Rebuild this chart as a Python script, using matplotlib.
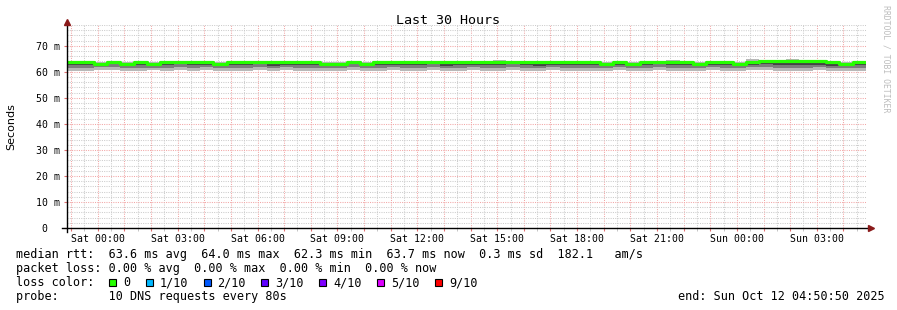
import matplotlib
matplotlib.use('Agg')
import matplotlib.pyplot as plt
from matplotlib.patches import Rectangle
from matplotlib.ticker import MultipleLocator, FixedLocator, FixedFormatter
import numpy as np

# time axis, hours relative to Sat 00:00 (end Sun 04:50:50, 30h window)
t_start = -1.1528
t_end = 28.8472
bin_hours = 0.5

# median rtt per 30 min bin (ms)
median = [63.9, 63.8, 63.0, 63.8, 63.1, 63.9, 62.9, 63.8, 63.7, 63.8,
          63.8, 63.0, 63.8, 63.9, 63.8, 63.7, 63.8, 63.9, 63.7, 63.0,
          63.1, 63.8, 62.9, 63.8, 63.9, 63.9, 63.8, 63.7, 63.8, 63.8,
          63.7, 63.8, 63.9, 63.7, 63.8, 63.8, 63.9, 63.8, 63.7, 63.8,
          63.0, 63.8, 63.1, 63.8, 63.9, 63.8, 63.7, 63.0, 63.8, 63.9,
          63.1, 63.9, 64.0, 64.0, 64.0, 64.0, 64.0, 63.9, 63.1, 63.9]
# smoke levels (ms)
smoke_max = [64.1, 64.1, 63.9, 64.1, 63.9, 64.2, 63.8, 64.1, 64.0, 64.1,
             64.1, 63.9, 64.2, 64.2, 64.1, 64.0, 64.1, 64.2, 64.0, 63.9,
             63.9, 64.1, 63.8, 64.1, 64.2, 64.2, 64.1, 64.0, 64.1, 64.1,
             64.0, 64.1, 64.4, 64.0, 64.1, 64.1, 64.2, 64.1, 64.0, 64.1,
             63.9, 64.1, 63.9, 64.1, 64.2, 64.5, 64.0, 63.9, 64.1, 64.2,
             63.9, 64.8, 64.3, 64.3, 64.8, 64.3, 64.3, 64.2, 63.9, 64.2]
smoke_dark = [62.8, 62.5, 62.3, 62.9, 62.4, 62.6, 62.2, 62.7, 62.9, 62.5,
              62.6, 62.3, 62.8, 62.6, 62.9, 62.4, 62.7, 62.5, 62.8, 62.2,
              62.4, 62.9, 62.1, 62.6, 62.8, 62.5, 62.7, 62.9, 62.4, 62.6,
              62.8, 62.5, 62.7, 62.9, 62.6, 62.4, 62.8, 62.6, 62.7, 62.5,
              62.2, 62.8, 62.3, 62.6, 62.9, 62.5, 62.7, 62.2, 62.8, 62.6,
              62.3, 62.7, 62.9, 62.5, 62.8, 62.6, 62.7, 62.4, 62.2, 62.7]
smoke_mid = [61.6, 61.4, 61.7, 61.8, 61.3, 61.5, 61.6, 61.4, 61.9, 61.5,
             61.7, 61.4, 61.6, 61.3, 61.8, 61.5, 61.7, 61.4, 61.6, 61.5,
             61.3, 61.8, 61.4, 61.6, 61.7, 61.4, 61.5, 61.9, 61.3, 61.6,
             61.7, 61.4, 61.6, 61.8, 61.5, 61.3, 61.7, 61.5, 61.6, 61.4,
             61.5, 61.7, 61.3, 61.6, 61.8, 61.4, 61.6, 61.5, 61.7, 61.3,
             61.4, 61.7, 61.8, 61.4, 61.6, 61.3, 61.7, 61.5, 61.4, 61.6]
smoke_min = [60.5, 60.4, 60.7, 60.8, 60.3, 60.5, 60.6, 60.4, 60.9, 60.4,
             60.6, 60.3, 60.5, 60.3, 60.8, 60.4, 60.7, 60.3, 60.5, 60.4,
             60.3, 60.8, 60.4, 60.5, 60.6, 60.3, 60.4, 60.9, 60.3, 60.5,
             60.6, 60.3, 60.5, 60.8, 60.4, 60.3, 60.6, 60.4, 60.5, 60.3,
             60.4, 60.7, 60.3, 60.5, 60.8, 60.3, 60.5, 60.4, 60.6, 60.3,
             60.3, 60.6, 60.8, 60.3, 60.5, 60.3, 60.7, 60.4, 60.3, 60.5]

xtick_hours = [0, 3, 6, 9, 12, 15, 18, 21, 24, 27]
xtick_labels = ['Sat 00:00', 'Sat 03:00', 'Sat 06:00', 'Sat 09:00', 'Sat 12:00',
                'Sat 15:00', 'Sat 18:00', 'Sat 21:00', 'Sun 00:00', 'Sun 03:00']
ytick_vals = [0, 10, 20, 30, 40, 50, 60, 70]
ytick_labels = ['0  ', '10 m', '20 m', '30 m', '40 m', '50 m', '60 m', '70 m']

loss_labels = ['0', '1/10', '2/10', '3/10', '4/10', '5/10', '9/10']
loss_colors = ['#26ff00', '#00b8ff', '#0059ff', '#5e00ff', '#7e00ff', '#dd00ff', '#ff0000']

title = 'Last 30 Hours'
line_rtt = 'median rtt:  63.6 ms avg  64.0 ms max  62.3 ms min  63.7 ms now  0.3 ms sd  182.1   am/s'
line_loss = 'packet loss: 0.00 % avg  0.00 % max  0.00 % min  0.00 % now'
line_probe = 'probe:       10 DNS requests every 80s'
line_end = 'end: Sun Oct 12 04:50:50 2025'

MONO = 'DejaVu Sans Mono'
W, H = 897, 310


def fx(x):
    return x / W


def fy(y):
    return 1 - y / H


fig = plt.figure(figsize=(W / 100, H / 100), dpi=100)
fig.patch.set_facecolor('white')
ax = fig.add_axes([fx(67), fy(228), fx(866) - fx(67), fy(25) - fy(228)])
ax.set_facecolor('white')

edges = t_start + bin_hours * np.arange(len(median) + 1)


def ext(a):
    return list(a) + [a[-1]]


ax.fill_between(edges, ext(smoke_min), ext(smoke_max), step='post', color='#b8b8b8', lw=0, zorder=2)
ax.fill_between(edges, ext(smoke_mid), ext(median), step='post', color='#7c7c7c', lw=0, zorder=3)
ax.fill_between(edges, ext(smoke_dark), ext(median), step='post', color='#444444', lw=0, zorder=4)
ax.step(edges, ext(median), where='post', color='#26ff00', lw=2.3, zorder=5)

ax.set_xlim(t_start, t_end)
ax.set_ylim(0, 78)

# grid
ax.xaxis.set_major_locator(MultipleLocator(1))
ax.xaxis.set_minor_locator(MultipleLocator(0.5))
ax.yaxis.set_major_locator(FixedLocator(ytick_vals))
ax.yaxis.set_major_formatter(FixedFormatter(ytick_labels))
ax.yaxis.set_minor_locator(MultipleLocator(2))
ax.grid(which='major', color='#f2a6a6', linestyle=(0, (1, 1.2)), lw=0.75, zorder=1)
ax.grid(which='minor', color='#cccccc', linestyle=(0, (1, 1.2)), lw=0.75, zorder=0)
ax.set_axisbelow(True)

ax.tick_params(axis='x', which='major', length=2, color='#e07070', labelbottom=False)
ax.tick_params(axis='x', which='minor', length=2, color='#bbbbbb')
ax.tick_params(axis='y', which='major', length=2, color='#e07070', pad=3,
               labelsize=7.1, labelfontfamily=MONO)
ax.tick_params(axis='y', which='minor', length=0)

for h, lab in zip(xtick_hours, xtick_labels):
    ax.text(h, -5.2, lab, ha='center', va='baseline', fontsize=7.1, family=MONO,
            transform=ax.transData, clip_on=False)

for s in ax.spines.values():
    s.set_visible(False)
arrow_c = '#8a1a1a'
ax.plot([-5 / 799, 1.004], [0, 0], color='black', lw=1, transform=ax.transAxes,
        clip_on=False, zorder=6)
ax.plot([0, 0], [-4 / 203, 1.005], color='black', lw=1, transform=ax.transAxes,
        clip_on=False, zorder=6)
ax.plot([1.006], [0], marker='>', ms=4, color=arrow_c, transform=ax.transAxes, clip_on=False, zorder=7)
ax.plot([0], [1.015], marker='^', ms=4, color=arrow_c, transform=ax.transAxes, clip_on=False, zorder=7)

# texts
fig.text(0.4995, fy(24), title, ha='center', va='baseline', fontsize=9.6, family=MONO)
fig.text(fx(11), fy(127), 'Seconds', rotation=90, ha='center', va='center',
         fontsize=8, family='DejaVu Sans')
fig.text(fx(886), fy(5), 'RRDTOOL / TOBI OETIKER', rotation=270, ha='center', va='top',
         fontsize=5.9, family=MONO, color='#bdbdbd')

fig.text(fx(16), fy(258), line_rtt, ha='left', va='baseline', fontsize=8.5, family=MONO)
fig.text(fx(16), fy(272), line_loss, ha='left', va='baseline', fontsize=8.5, family=MONO)
fig.text(fx(16), fy(286), 'loss color:', ha='left', va='baseline', fontsize=8.5, family=MONO)
fig.text(fx(16), fy(300), line_probe, ha='left', va='baseline', fontsize=8.5, family=MONO)
fig.text(fx(678), fy(300), line_end, ha='left', va='baseline', fontsize=8.5, family=MONO)

char_w = 7.11
sq_x = 109
for lab, col in zip(loss_labels, loss_colors):
    fig.patches.append(Rectangle((fx(sq_x), fy(286)), 7 / W, 7 / H, facecolor=col,
                                 edgecolor='black', lw=0.8, transform=fig.transFigure))
    fig.text(fx(sq_x + 14), fy(286), lab, ha='left', va='baseline', fontsize=8.5, family=MONO)
    sq_x = sq_x + 14 + len(lab) * char_w + 15.5

fig.savefig('out.png', dpi=100)
